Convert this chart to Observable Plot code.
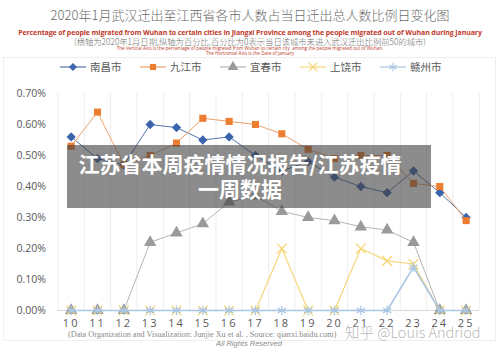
<!DOCTYPE html>
<html><head><meta charset="utf-8">
<script src="https://cdn.jsdelivr.net/npm/d3@7"></script>
<script src="https://cdn.jsdelivr.net/npm/@observablehq/plot@0.6"></script>
<style>
html,body{margin:0;padding:0;background:#fff;}
#wrap{position:relative;width:500px;height:353px;overflow:hidden;font-family:"Noto Sans CJK SC","Open Sans",sans-serif;}
.abs{position:absolute;white-space:nowrap;line-height:1;}
.c{left:0;width:500px;text-align:center;}
#chart{position:absolute;left:0;top:80px;}
#chart svg{overflow:visible}
#chart [aria-label="x-axis tick label"] text{letter-spacing:2px;}
.leg{position:absolute;top:61px;height:12px;display:flex;align-items:center;font-size:10.5px;color:#595959;line-height:1;}
.leg svg{margin-right:4px}
</style></head>
<body><div id="wrap">
<div id="frame" class="abs" style="left:3px;top:57px;width:491px;height:282px;border:1px solid #efefef;"></div>
<div class="abs c" style="top:8px;font-size:13px;color:#6b6b6b;font-weight:300;">2020年1月武汉迁出至江西省各市人数占当日迁出总人数比例日变化图</div>
<div class="abs c" style="top:29px;font-size:7px;color:#c0392b;font-weight:bold;font-family:'Open Sans',sans-serif;letter-spacing:-0.1px;">Percentage of people migrated from Wuhan to certain cities in Jiangxi Province among the people migrated out of Wuhan during January</div>
<div class="abs c" style="top:37px;font-size:8.3px;color:#707070;font-weight:300;">(横轴为2020年1月日期,纵轴为百分比,百分比为0表示当日该城市未进入武汉迁出比例前50的城市)</div>
<div class="abs c" style="top:45.5px;font-size:4.6px;color:#c0392b;font-family:'Open Sans',sans-serif;">The Vertical Axis is the percentage of people migrated from Wuhan to certain city&nbsp; among the people migrated out of Wuhan.</div>
<div class="abs c" style="top:50.5px;font-size:4.6px;color:#c0392b;font-family:'Open Sans',sans-serif;">The Horizontal Axis is the Date of January</div>
<div id="legend"></div>
<div id="chart"></div>
<div class="abs" style="left:68px;top:331px;font-size:8.2px;color:#8a8a8a;font-family:'Liberation Serif',serif;">(Data Organization and Visualization: Junjie Xu et al. , Source: qianxi.baidu.com)</div>
<div class="abs" style="left:216px;top:340px;font-size:7.5px;color:#8a8a8a;font-style:italic;font-family:'Liberation Sans',sans-serif;">All Rights Reserved</div>
<div class="abs" style="left:345px;top:325px;font-size:14.5px;color:rgba(160,160,160,0.75);font-weight:300;font-family:'Noto Sans CJK SC',sans-serif;">知乎 @Louis Andriod</div>
<div class="abs" style="left:67px;top:145px;width:364px;height:63px;background:rgba(64,64,64,0.6);"></div>
<div class="abs" style="left:67px;top:151px;width:346px;text-align:center;color:#fff;font-weight:bold;font-size:21px;line-height:25px;font-family:'Noto Sans CJK SC',sans-serif;white-space:normal;">江苏省本周疫情情况报告/江苏疫情<br>一周数据</div>
</div>
<script>
const days = [10,11,12,13,14,15,16,17,18,19,20,21,22,23,24,25];
const seriesNames = ["南昌市","九江市","宜春市","上饶市","赣州市"];
const nanchang = [0.56,0.49,0.47,0.60,0.59,0.55,0.56,0.50,0.45,0.48,0.43,0.40,0.38,0.45,0.38,0.30];
const jiujiang = [0.53,0.64,0.47,0.50,0.54,0.62,0.61,0.60,0.57,0.52,0.49,0.50,0.50,0.41,0.40,0.29];
const yichun   = [0,0,0,0.22,0.25,0.28,0.35,0.37,0.32,0.30,0.29,0.27,0.26,0.22,0,0];
const shangrao = [0,0,0,0,0,0,0,0,0.20,0,0,0.20,0.16,0.15,0,0];
const ganzhou  = [0,0,0,0,0,0,0,0,0,0,0,0,0,0.14,0,0];
const yTicks = [0,0.1,0.2,0.3,0.4,0.5,0.6,0.7];

const values = [nanchang, jiujiang, yichun, shangrao, ganzhou];
const styles = [
  {line:"#5274ad", sym:"diamond2", color:"#3c64ac", r:4.2, filled:true, lw:1},
  {line:"#eda16c", sym:"square", color:"#ed7d31", r:4, filled:true, lw:1},
  {line:"#b4b4b4", sym:"triangle", color:"#9a9a9a", r:4.6, filled:true, lw:1},
  {line:"#f6d77c", sym:"times", color:"#f5d26a", r:4.5, filled:false, lw:1.2},
  {line:"#a9c6e4", sym:"asterisk", color:"#a9c6e4", r:4.5, filled:false, lw:1.6}
];
const tables = values.map((vals, i) => days.map((d, j) => ({day: d, value: vals[j], series: seriesNames[i]})));
const bounds = [days[0] - 0.5, ...days.map(d => d + 0.5)];

const marks = [
  Plot.ruleX(bounds, {x: d => d, y1: 0, y2: 0.7, stroke: "#ededed", strokeWidth: 1}),
  Plot.ruleY([0], {stroke: "#d0d8e0"}),
  Plot.axisY({ticks: yTicks, tickSize: 0, tickPadding: 12, tickFormat: d => d.toFixed(2) + "%", fontSize: 10.5, fill: "#595959", label: null}),
  Plot.axisX({ticks: days, tickSize: 0, tickPadding: 9, fontSize: 11, fill: "#595959", label: null})
];
tables.forEach((t, i) => {
  const s = styles[i];
  marks.push(Plot.line(t, {x: "day", y: "value", stroke: s.line, strokeWidth: s.lw}));
  marks.push(Plot.dot(t, s.filled
    ? {x: "day", y: "value", symbol: () => s.sym, r: s.r, fill: s.color, stroke: "none"}
    : {x: "day", y: "value", symbol: () => s.sym, r: s.r, stroke: s.color, strokeWidth: 1.2, fill: "none"}));
});

const chart = Plot.plot({
  width: 500, height: 273,
  marginLeft: 57.5, marginRight: 21.2, marginTop: 13, marginBottom: 43,
  x: {type: "linear", domain: [9.5, 25.5], axis: null},
  y: {domain: [0, 0.7], axis: null},
  symbol: {type: "ordinal", domain: ["diamond2","square","triangle","times","asterisk"], range: ["diamond2","square","triangle","times","asterisk"]},
  style: {fontFamily: "'Open Sans', sans-serif", background: "transparent", color: "#595959"},
  marks
});
document.getElementById("chart").appendChild(chart);

// legend
const legLeft = [60, 140, 220, 300, 380];
const symMap = {diamond2: d3.symbolDiamond2, square: d3.symbolSquare, triangle: d3.symbolTriangle, times: d3.symbolTimes, asterisk: d3.symbolAsterisk};
const leg = document.getElementById("legend");
seriesNames.forEach((name, i) => {
  const s = styles[i];
  const div = document.createElement("div");
  div.className = "leg";
  div.style.left = legLeft[i] + "px";
  const path = d3.symbol(symMap[s.sym], Math.PI * s.r * s.r * 0.75)();
  div.innerHTML = `<svg width="26" height="12"><line x1="0" x2="26" y1="6" y2="6" stroke="${s.line}" stroke-width="1.2"/><path transform="translate(13,6)" d="${path}" ${s.filled ? `fill="${s.color}"` : `fill="none" stroke="${s.color}" stroke-width="1.1"`}/></svg><span>${name}</span>`;
  leg.appendChild(div);
});
</script>
</body></html>
